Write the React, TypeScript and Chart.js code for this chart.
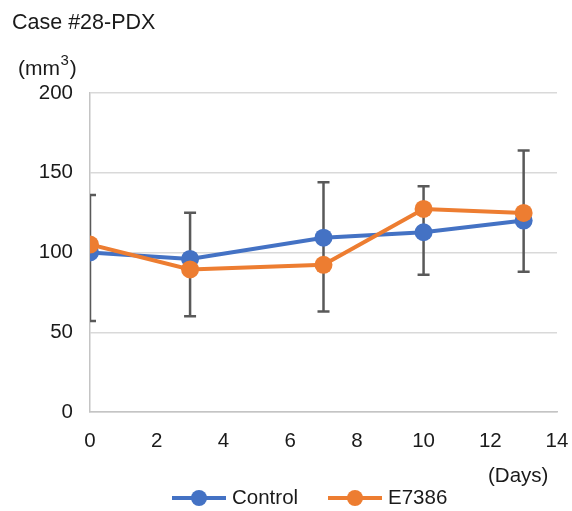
import React, { useEffect, useRef } from "react";
import { Chart, registerables } from "chart.js";

Chart.register(...registerables);

const days = [0, 3, 7, 10, 13];
const control = [100, 96, 109.3, 112.7, 120];
const e7386 = [105, 89.4, 92.3, 127.3, 124.8];
const errLow = [57, 60, 63, 86, 88];
const errHigh = [136, 125, 144, 141.5, 164];
const yTicks = [0, 50, 100, 150, 200];
const xTicks = [0, 2, 4, 6, 8, 10, 12, 14];

const BLUE = "#4472C4";
const ORANGE = "#ED7D31";
const FONT = "'Liberation Sans', Arial, Helvetica, sans-serif";
const TEXT = "#1a1a1a";

const errorBarPlugin = {
  id: "errorBars",
  beforeDatasetsDraw(chart: any) {
    const { ctx, chartArea, scales } = chart;
    ctx.save();
    ctx.beginPath();
    ctx.rect(chartArea.left, chartArea.top - 20, chartArea.right - chartArea.left, chartArea.bottom - chartArea.top + 20);
    ctx.clip();
    ctx.strokeStyle = "#595959";
    ctx.lineWidth = 2.5;
    days.forEach((d, i) => {
      const x = scales.x.getPixelForValue(d);
      const yl = scales.y.getPixelForValue(errLow[i]);
      const yh = scales.y.getPixelForValue(errHigh[i]);
      ctx.beginPath();
      ctx.moveTo(x, yl);
      ctx.lineTo(x, yh);
      ctx.moveTo(x - 6, yl);
      ctx.lineTo(x + 6, yl);
      ctx.moveTo(x - 6, yh);
      ctx.lineTo(x + 6, yh);
      ctx.stroke();
    });
    ctx.restore();
  },
};

const textPlugin = {
  id: "texts",
  afterDraw(chart: any) {
    const { ctx } = chart;
    ctx.save();
    ctx.fillStyle = TEXT;
    ctx.textBaseline = "middle";
    ctx.textAlign = "left";
    ctx.font = `21.5px ${FONT}`;
    ctx.fillText("Case #28-PDX", 12, 23);
    // (mm3)
    ctx.font = `21px ${FONT}`;
    ctx.fillText("(mm", 18, 69);
    const w = ctx.measureText("(mm").width;
    ctx.font = `15px ${FONT}`;
    ctx.fillText("3", 18 + w + 0.5, 61);
    const w3 = ctx.measureText("3").width;
    ctx.font = `21px ${FONT}`;
    ctx.fillText(")", 18 + w + w3 + 1.5, 69);
    // (Days)
    ctx.font = `20.5px ${FONT}`;
    ctx.fillText("(Days)", 488, 476);
    // legend
    const items = [
      { label: "Control", color: BLUE, x0: 172 },
      { label: "E7386", color: ORANGE, x0: 328 },
    ];
    const ly = 498;
    items.forEach((it) => {
      ctx.strokeStyle = it.color;
      ctx.lineWidth = 4;
      ctx.beginPath();
      ctx.moveTo(it.x0, ly);
      ctx.lineTo(it.x0 + 54, ly);
      ctx.stroke();
      ctx.fillStyle = it.color;
      ctx.beginPath();
      ctx.arc(it.x0 + 27, ly, 8, 0, Math.PI * 2);
      ctx.fill();
      ctx.fillStyle = TEXT;
      ctx.fillText(it.label, it.x0 + 60, ly);
    });
    ctx.restore();
  },
};

export default function App() {
  const ref = useRef<HTMLCanvasElement>(null);
  useEffect(() => {
    if (!ref.current) return;
    const chart = new Chart(ref.current, {
      type: "line",
      data: {
        datasets: [
          {
            label: "Control",
            data: days.map((d, i) => ({ x: d, y: control[i] })),
            borderColor: BLUE,
            backgroundColor: BLUE,
            borderWidth: 4,
            pointRadius: 9,
            pointBorderWidth: 0,
            pointBackgroundColor: BLUE,
            order: 1,
          },
          {
            label: "E7386",
            data: days.map((d, i) => ({ x: d, y: e7386[i] })),
            borderColor: ORANGE,
            backgroundColor: ORANGE,
            borderWidth: 4,
            pointRadius: 9,
            pointBorderWidth: 0,
            pointBackgroundColor: ORANGE,
            order: 0,
          },
        ],
      },
      options: {
        animation: false,
        responsive: false,
        maintainAspectRatio: false,
        layout: { padding: { top: 93, left: 0, right: 15, bottom: 0 } },
        plugins: { legend: { display: false }, tooltip: { enabled: false } },
        elements: { line: { tension: 0 } },
        scales: {
          x: {
            type: "linear",
            min: 0,
            max: 14,
            afterFit: (s: any) => {
              s.height = 99;
              s.paddingRight = 0;
              s.paddingLeft = 0;
            },
            afterBuildTicks: (s: any) => {
              s.ticks = xTicks.map((v) => ({ value: v }));
            },
            grid: { display: false, drawTicks: false },
            border: { display: true, color: "#c4c4c4", width: 1.5 },
            ticks: {
              padding: 17,
              color: TEXT,
              font: { family: FONT, size: 20.5 },
            },
          },
          y: {
            min: 0,
            max: 200,
            afterFit: (s: any) => {
              s.width = 90;
              s.paddingTop = 0;
              s.paddingBottom = 0;
            },
            afterBuildTicks: (s: any) => {
              s.ticks = yTicks.map((v) => ({ value: v }));
            },
            grid: { color: "#d9d9d9", lineWidth: 1.5, drawTicks: false },
            border: { display: true, color: "#c4c4c4", width: 1.5 },
            ticks: {
              padding: 17,
              color: TEXT,
              font: { family: FONT, size: 20.5 },
            },
          },
        },
      },
      plugins: [errorBarPlugin, textPlugin],
    });
    return () => chart.destroy();
  }, []);
  return (
    <div style={{ position: "fixed", left: 0, top: 0, width: 572, height: 511, background: "#fff" }}>
      <canvas ref={ref} width={572} height={511} style={{ display: "block" }} />
    </div>
  );
}
